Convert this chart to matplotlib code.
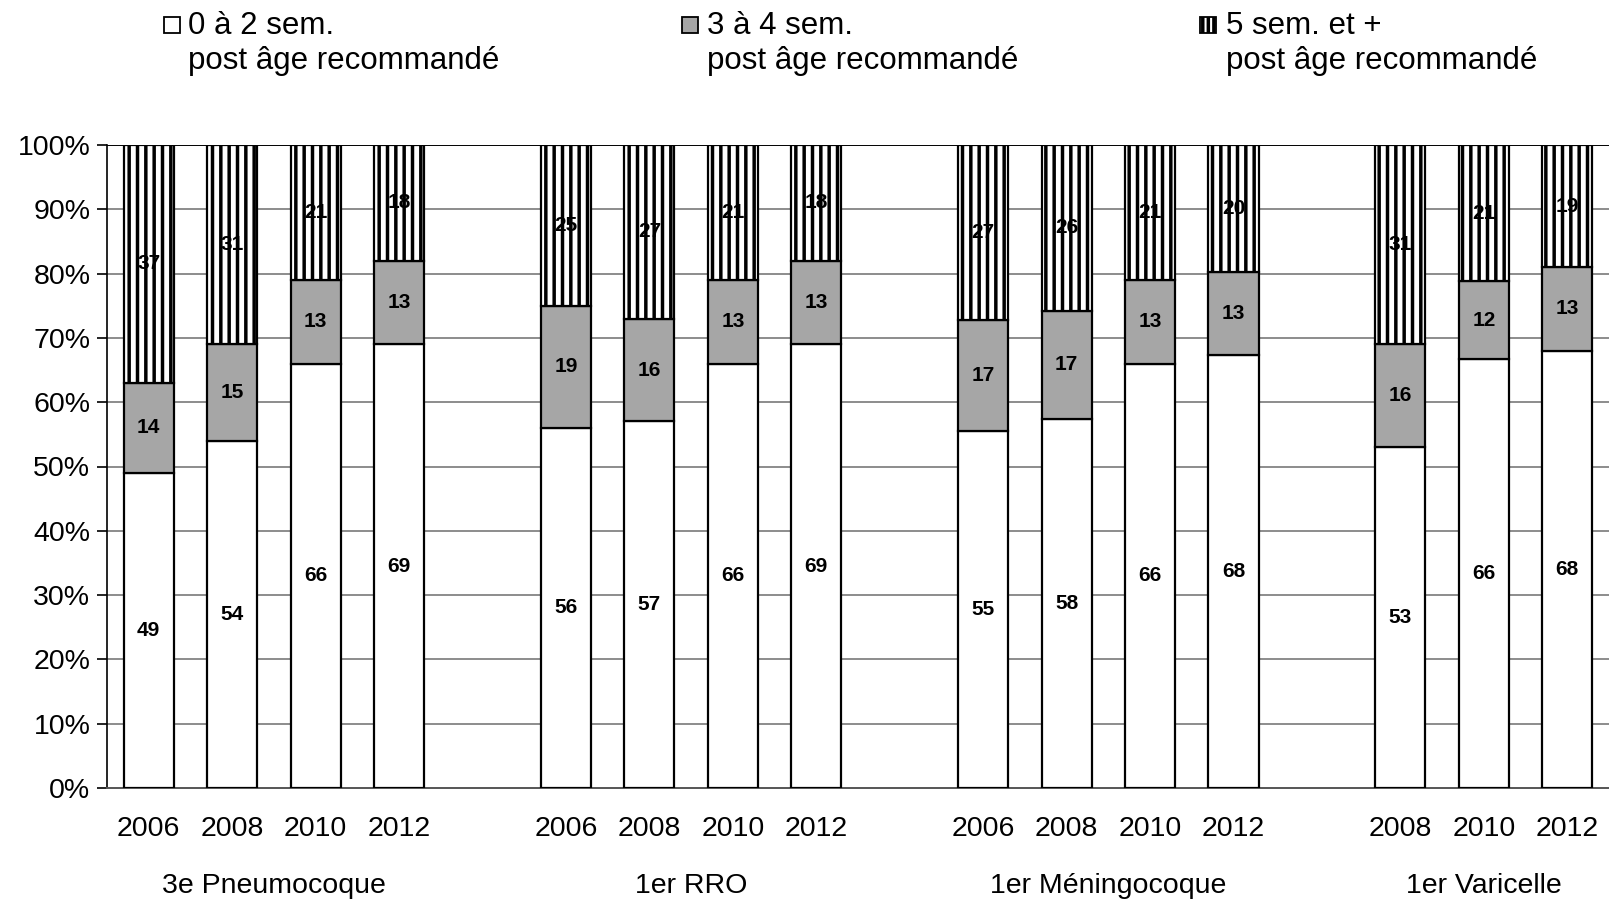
import matplotlib.pyplot as plt
from matplotlib.patches import Rectangle
from matplotlib.transforms import blended_transform_factory
import numpy as np

plt.rcParams['font.family'] = ['Liberation Sans', 'DejaVu Sans']
plt.rcParams['hatch.linewidth'] = 2.5
plt.rcParams['hatch.color'] = 'black'

groups = ['3e Pneumocoque', '1er RRO', '1er Méningocoque', '1er Varicelle']
years = [
    ['2006', '2008', '2010', '2012'],
    ['2006', '2008', '2010', '2012'],
    ['2006', '2008', '2010', '2012'],
    ['2008', '2010', '2012'],
]
# percentages per delay class, group by group
early = [49, 54, 66, 69, 56, 57, 66, 69, 55, 58, 66, 68, 53, 66, 68]
mid = [14, 15, 13, 13, 19, 16, 13, 13, 17, 17, 13, 13, 16, 12, 13]
late = [37, 31, 21, 18, 25, 27, 21, 18, 27, 26, 21, 20, 31, 21, 19]

legend_labels = ['0 à 2 sem.', '3 à 4 sem.', '5 sem. et +']
legend_sub = 'post âge recommandé'

# slot positions: one empty slot between groups
pos = []
group_centers = []
slot = 0
for ys in years:
    gp = []
    for _ in ys:
        pos.append(slot)
        gp.append(slot)
        slot += 1
    group_centers.append(np.mean(gp))
    slot += 1
pos = np.array(pos, dtype=float)

early = np.array(early, dtype=float)
mid = np.array(mid, dtype=float)
late = np.array(late, dtype=float)
tot = early + mid + late
e_h = early / tot * 100
m_h = mid / tot * 100
l_h = late / tot * 100

fig = plt.figure(figsize=(16.09, 9.01), dpi=100)
ax = fig.add_axes([107 / 1609, 1 - 788 / 901, 1 - 107 / 1609, (788 - 145) / 901])

w = 0.6
ax.bar(pos, e_h, w, color='white', edgecolor='black', linewidth=1.6, zorder=3)
ax.bar(pos, m_h, w, bottom=e_h, color='#A6A6A6', edgecolor='black', linewidth=1.6, zorder=3)
ax.bar(pos, l_h, w, bottom=e_h + m_h, color='white', edgecolor='black', linewidth=1.6,
       hatch='||', zorder=3)

lbl = dict(ha='center', va='center', fontsize=15, fontweight='bold', zorder=5)
for x, a, b, c, ha, hb, hc in zip(pos, early, mid, late, e_h, m_h, l_h):
    ax.text(x, ha / 2, f'{a:.0f}', **lbl)
    ax.text(x, ha + hb / 2, f'{b:.0f}', **lbl)
    ax.text(x, ha + hb + hc / 2, f'{c:.0f}', **lbl)

ax.set_xlim(-0.5, 17.5)
ax.set_ylim(0, 100)
ax.set_yticks(np.arange(0, 101, 10))
ax.set_yticklabels([f'{v}%' for v in range(0, 101, 10)], fontsize=20.5)
ax.tick_params(axis='y', length=7, width=1.2, pad=5)
ax.set_xticks([])
for v in range(10, 100, 10):
    ax.axhline(v, color='#8c8c8c', linewidth=1.4, zorder=1)
ax.axhline(100, color='black', linewidth=1.4, zorder=1)
for s in ['top', 'right']:
    ax.spines[s].set_visible(False)
ax.spines['left'].set_linewidth(1.2)
ax.spines['bottom'].set_color('#555555')
ax.spines['bottom'].set_linewidth(1.4)

# year and group labels below the axis
tr = blended_transform_factory(ax.transData, fig.transFigure)
flat_years = [y for ys in years for y in ys]
for x, y in zip(pos, flat_years):
    ax.text(x, 1 - 829 / 901, y, transform=tr, ha='center', va='center', fontsize=20.5)
for x, g in zip(group_centers, groups):
    ax.text(x, 1 - 886 / 901, g, transform=tr, ha='center', va='center', fontsize=20.5)

# legend drawn by hand across the top
box_x = [164, 682, 1200]
text_x = [188, 707, 1226]
styles = [dict(facecolor='white', hatch=None),
          dict(facecolor='#A6A6A6', hatch=None),
          dict(facecolor='white', hatch='|||')]
for bx, tx, lab, st in zip(box_x, text_x, legend_labels, styles):
    fig.add_artist(Rectangle((bx / 1609, 1 - 33 / 901), 16 / 1609, 16 / 901,
                             transform=fig.transFigure, edgecolor='black', linewidth=1.3,
                             facecolor=st['facecolor'], hatch=st['hatch']))
    fig.text(tx / 1609, 1 - 26.5 / 901, lab, ha='left', va='center', fontsize=22.5)
    fig.text(tx / 1609, 1 - 60.5 / 901, legend_sub, ha='left', va='center', fontsize=22.5)

fig.savefig('out.png', dpi=100)
